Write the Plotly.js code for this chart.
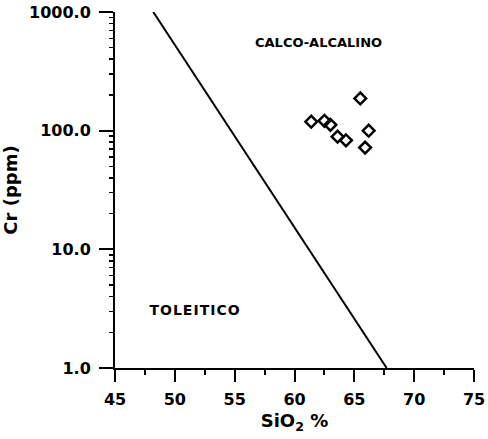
<!DOCTYPE html>
<html>
<head>
<meta charset="utf-8">
<script src="https://cdn.plot.ly/plotly-3.0.1.min.js"></script>
<style>
html,body{margin:0;padding:0;background:#fff;}
#chart{width:488px;height:439px;}
.annotation[data-index="1"] .annotation-text{letter-spacing:1px;}
path.xtick.ticks, path.ytick.ticks{visibility:visible !important;stroke-opacity:1 !important;}
</style>
</head>
<body>
<div id="chart"></div>
<script>
// Sample points (SiO2 %, Cr ppm)
const sio2 = [65.5, 61.4, 62.5, 63.0, 63.6, 64.3, 66.2, 65.9];
const cr   = [187, 119, 121, 112, 89, 83, 100, 72];

// Dividing line between the two series
const lineSio2 = [48.2, 67.7];
const lineCr   = [1000, 1];

// Axis ticks
const xTickVals = [45, 50, 55, 60, 65, 70, 75];
const xTickText = ['45', '50', '55', '60', '65', '70', '75'];
const xMinorVals = [47.5, 52.5, 57.5, 62.5, 67.5, 72.5];
const yTickVals = [1, 10, 100, 1000];
const yTickText = ['1.0', '10.0', '100.0', '1000.0'];
const yMinorVals = [2, 3, 4, 5, 6, 7, 8, 9, 20, 30, 40, 50, 60, 70, 80, 90, 200, 300, 400, 500, 600, 700, 800, 900];

// Field labels
const fieldNames = ['CALCO-ALCALINO', 'TOLEITICO'];
const fieldX = [62.0, 51.7];
const fieldY = [550, 3.1];

const font = {family: 'DejaVu Sans, Arial, sans-serif', color: '#000', weight: 'bold'};

const traces = [
  {
    x: lineSio2, y: lineCr, mode: 'lines', type: 'scatter',
    line: {color: '#000', width: 2}, hoverinfo: 'skip'
  },
  {
    x: sio2, y: cr, mode: 'markers', type: 'scatter',
    marker: {symbol: 'diamond-open', size: 9, color: '#000', line: {color: '#000', width: 2.5}}
  }
];

// tick-only axes laid over the main ones
function tickAxisX(vals, len) {
  return {
    overlaying: 'x', anchor: 'y', side: 'bottom', matches: 'x',
    range: [45, 75], showgrid: false, zeroline: false, showline: false,
    ticks: 'outside', ticklen: len, tickwidth: 2, tickcolor: '#000',
    tickmode: 'array', tickvals: vals, showticklabels: false, automargin: false
  };
}
function tickAxisY(vals, len, w) {
  return {
    overlaying: 'y', anchor: 'x', side: 'left',
    type: 'log', range: [0, 3], showgrid: false, zeroline: false, showline: false,
    ticks: 'outside', ticklen: len, tickwidth: w, tickcolor: '#000',
    tickmode: 'array', tickvals: vals, showticklabels: false, automargin: false
  };
}

const layout = {
  width: 488, height: 439,
  margin: {l: 115, r: 14, t: 12, b: 71},
  paper_bgcolor: '#fff', plot_bgcolor: '#fff',
  showlegend: false,
  font: Object.assign({}, font, {size: 16}),
  xaxis: {
    range: [45, 75], showgrid: false, zeroline: false,
    showline: true, linecolor: '#000', linewidth: 2,
    ticks: 'outside', ticklen: 12, tickwidth: 2, tickcolor: '#000',
    tickmode: 'array', tickvals: xTickVals, ticktext: xTickText,
    ticklabelstandoff: 4,
    tickfont: Object.assign({}, font, {size: 16}),
    title: {text: 'SiO<sub>2</sub> %', font: Object.assign({}, font, {size: 18}), standoff: 6},
    automargin: false
  },
  xaxis2: tickAxisX(xMinorVals, 6),
  yaxis: {
    type: 'log', range: [0, 3], showgrid: false, zeroline: false,
    showline: true, linecolor: '#000', linewidth: 2,
    ticks: 'outside', ticklen: 14, tickwidth: 2, tickcolor: '#000',
    tickmode: 'array', tickvals: yTickVals, ticktext: yTickText,
    ticklabelstandoff: 5,
    tickfont: Object.assign({}, font, {size: 16}),
    title: {text: 'Cr (ppm)', font: Object.assign({}, font, {size: 18}), standoff: 10},
    automargin: false
  },
  yaxis2: tickAxisY(yMinorVals, 5, 1.5),
  annotations: fieldNames.map((t, i) => ({
    x: fieldX[i], y: Math.log10(fieldY[i]), xref: 'x', yref: 'y',
    text: t, showarrow: false,
    font: Object.assign({}, font, {size: i === 0 ? 13 : 14})
  }))
};

// invisible trace to activate the tick-only axes
traces.push({x: [45], y: [1], xaxis: 'x2', yaxis: 'y2', mode: 'markers', marker: {opacity: 0}, hoverinfo: 'skip'});

Plotly.newPlot('chart', traces, layout, {displayModeBar: false, staticPlot: true});
</script>
</body>
</html>
